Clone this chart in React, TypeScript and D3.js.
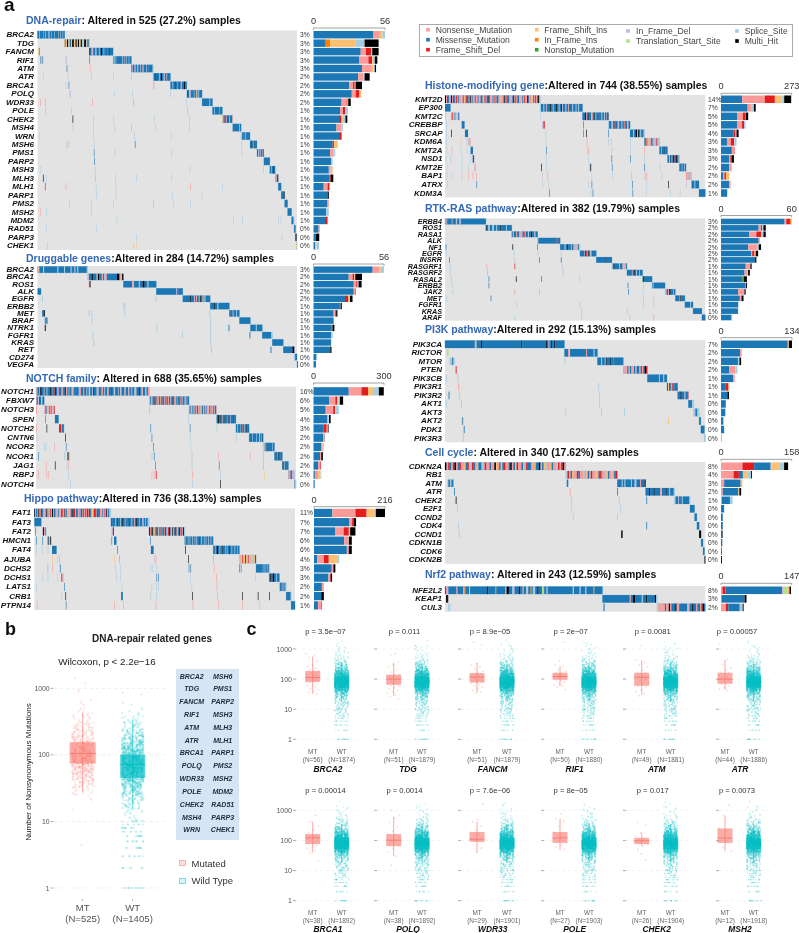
import React from 'react';
import * as d3 from 'd3';

// ---------- mutation classes ----------
const mutCodes = ['N','M','D','I','O','T','C','L','S','H'];
const mutColors = ['#FB9A99','#1F78B4','#E31A1C','#FDBF6F','#FF7F00','#33A02C','#CAB2D6','#B2DF8A','#A6CEE3','#000000'];
const mutColor = d3.scaleOrdinal<string,string>().domain(mutCodes).range(mutColors);
const legendCol1 = [['N','Nonsense_Mutation'],['M','Missense_Mutation'],['D','Frame_Shift_Del']];
const legendCol2 = [['I','Frame_Shift_Ins'],['O','In_Frame_Ins'],['T','Nonstop_Mutation']];
const legendCol3 = [['C','In_Frame_Del'],['L','Translation_Start_Site']];
const legendCol4 = [['S','Splice_Site'],['H','Multi_Hit']];

// ---------- oncoplot rows: g gene, p percent, b bar stack, n new samples in stair block,
// m run-length block pattern, t single samples, r extra runs [start,len,pattern] ----------
type Row = {g:string;p:string;b:string;n:number;m:string;t?:string;r?:[number,number,string][]};

const dnaRows: Row[] = [
 {g:'BRCA2',p:'3%',b:'M47 N5 I2 S2',n:55,m:'M4 S M6 S M4 S M5 S2 M3 C M5 S M7 I M3 S M4 S M3'},
 {g:'TDG',p:'3%',b:'M9 D.5 O3.5 I20 S7 H11',n:50,m:'O M I2 H2 S I2 H M I2 H3 I2 S H2 I S H2 I3 H2 S2 I2 H3 I S2 H M I'},
 {g:'FANCM',p:'3%',b:'M37 N4 D4 I1 H5',n:48,m:'H2 M2 N C2 M4 S2 M2 H M2 N M2 H2 M3 S M5 D M3 H M6',t:'1I 3M'},
 {g:'RIF1',p:'3%',b:'M36 N7 D3 I.5 S1.5 H2',n:37,m:'M C S M2 S M12 S M3 N M2 S M4 S M4',t:'57C 58C 105M',r:[[6,6,'M C N M S']]},
 {g:'ATM',p:'3%',b:'M38 N7 I2 S1 H1',n:44,m:'M2 C M3 N S M3 C2 M4 S M3 N S M5 C M3 M8 S',t:'59M 106N'},
 {g:'ATR',p:'2%',b:'M35 N4 S1 H4',n:35,m:'N M3 H M2 H M3 S M2 H2 M3 S C M3 N M6',t:'11S 61S 109S 153S 190S'},
 {g:'BRCA1',p:'2%',b:'M28 N3 D1.3 I.7 H5',n:33,m:'M4 S M4 H M2 N M3 H M2 N S M4 H2 M3',t:'57S 63M 234C 235N'},
 {g:'POLQ',p:'2%',b:'M30 N3 D3 I1.5',n:31,m:'S H M2 N2 C M5 S M3 I N M2 S M5',t:'65C 66C 155S 192S 268S'},
 {g:'WDR33',p:'2%',b:'M22 N4 D.7 I.5 H2',n:21,m:'M13 S M4',t:'5N 15N 111N 194N 301S'},
 {g:'POLE',p:'1%',b:'M21 N2 D2 S2',n:20,m:'M4 S M9 S M6',t:'16C 68S 303N'},
 {g:'CHEK2',p:'1%',b:'M20 D2 I1 S2 H1.5',n:21,m:'I S M2 D M2 N H M3 S M4 N',t:'71H 113S 153S 236S 307S'},
 {g:'MSH4',p:'1%',b:'M18 N4 S1',n:17,m:'M10 S M2',t:'71S 113S 156S 190N 238S 307S'},
 {g:'WRN',p:'1%',b:'M20 D2',n:18,m:'S2 M3 D M3 S M8',t:'3S 113S 196S 270S'},
 {g:'MSH6',p:'1%',b:'M15 D1 I3',n:14,m:'M2 H M2 S M2 H M3',t:'59N 62S 114S 197M 412S'},
 {g:'PMS1',p:'1%',b:'M13 N2.5 S1.5',n:14,m:'M2 S C M2 C M2 N M2',t:'114M 156S 271S 413S'},
 {g:'PARP2',p:'1%',b:'M14 S1',n:12,m:'M12',t:'115M'},
 {g:'MSH3',p:'1%',b:'M12 C1.5 I1.5',n:12,m:'M2 I M3 H M2 S',t:'6S 116S 308S 457C'},
 {g:'MLH3',p:'1%',b:'M12.5 D1 H2',n:5,m:'M N M H',t:'11H 18S 117N 157S 200S 270S'},
 {g:'MLH1',p:'1%',b:'M8 N3 D1.5',n:6,m:'M6',t:'15D 57N 118S 158S 309N 374S'},
 {g:'PARP1',p:'1%',b:'M11 H1',n:7,m:'M6 H',t:'119S 158S 272S 332S'},
 {g:'PMS2',p:'1%',b:'M11 N1',n:6,m:'M6',t:'64S 108S 153S 234N 274S 309S'},
 {g:'MSH2',p:'1%',b:'M10 S2',n:8,m:'M8',t:'5N 18S 109S'},
 {g:'MDM2',p:'1%',b:'M9 D2',n:5,m:'M3 D S',t:'160S 396S 414S 487S 492S'},
 {g:'RAD51',p:'0%',b:'M4 N1',n:3,m:'M3',t:'17S 119S'},
 {g:'PARP3',p:'0%',b:'M2 H2.5',n:2,m:'H2',t:'200S 494S'},
 {g:'CHEK1',p:'0%',b:'M1.3 I1 S2',n:1,m:'I',t:'20S 194S 200I'},
];

const drugRows: Row[] = [
 {g:'BRCA2',p:'3%',b:'M47 N5 I1.5 S2.5',n:55,m:'N I M4 I M14 S M6 S M6 S M3 C M2 S M9 S'},
 {g:'BRCA1',p:'2%',b:'M28 N3 D1.5 I.7 H5.3',n:39,m:'C M2 H M3 N H M2 N M S N M8 H2 N C H',},
 {g:'ROS1',p:'2%',b:'M32 N2 D1 S.8 H2.4',n:36,m:'M9 N C M5 S M3 H2 M3 S M8',t:'56N 57H'},
 {g:'ALK',p:'2%',b:'M32 N1 D.5',n:29,m:'M22 C D M5',r:[[0,4,'M']]},
 {g:'EGFR',p:'2%',b:'M25 D2.7 I1.3 H2',n:30,m:'M8 H M2 D C M N M2 I H M2 I M S M5',t:'5S 129S'},
 {g:'ERBB2',p:'1%',b:'M21 S.5 H1',n:21,m:'M4 H M3 S M12',t:'94S 95S'},
 {g:'MET',p:'1%',b:'M16 N1.3 D.7 H1',n:11,m:'D M3 C M3 S M3',t:'5M 6M 7H 56S 59S 95S 188S'},
 {g:'BRAF',p:'1%',b:'M16',n:12,m:'M12',t:'8M 9M 10M 59S 189S'},
 {g:'NTRK1',p:'1%',b:'M14.6 S.4 H1.6',n:13,m:'M6 S M6',t:'8H 130S 189S 209M'},
 {g:'FGFR1',p:'1%',b:'M14 S1.3',n:11,m:'M9 S',t:'60S 158S 189S 232M'},
 {g:'KRAS',p:'1%',b:'M14',n:12,m:'M12',t:'61S 189S'},
 {g:'RET',p:'1%',b:'M13.3 H1',n:12,m:'M10 H2',t:'190S 255M'},
 {g:'CD274',p:'0%',b:'M2 S1',n:3,m:'S M2'},
 {g:'VEGFA',p:'0%',b:'M2',n:1,m:'M'},
];

const notchRows: Row[] = [
 {g:'NOTCH1',p:'16%',b:'M150 N54 D28 I21 S25 H21',n:300,m:'N S M3 C H2 M3 N M3 S M4 H2 N M3 D H M2 N2 M4 S N M3 H N2 M2 I M3 S N2 M2 D M4 C N2 M3 S D M3 S M2 N I M3 S H M4 N2 S M3 D N2 M2 S M3 I N M3 H M3 N S M3 D N M2 S2 M4 N C M3 S N M2 D I M3 S2 N M4 H M2 S N M3 C S M2 N2'},
 {g:'FBXW7',p:'6%',b:'M66 N27 D8 I5 S6 H14',n:105,m:'C S M2 N S N M3 N H M2 D N M2 S N2 M3 I N M2 H N M3 N S M2 D I M2 N2 M3 S N M2 H M3 N2 M S I M3 N M4 D N M2 S N M3 C M N S M2 N D M3',r:[[0,22,'N M2 C S H M2 N S M H M']]},
 {g:'NOTCH3',p:'5%',b:'M52 N32 D8 I3 S13',n:73,m:'S M2 N C S M2 N2 M D S N M2 N2 S M I N2 M2 S N M D N2 M S N2 I M2 N M S N2 M D S M2 N',t:'0N 1N 300N',r:[[22,28,'N D N M S C N D N2 M S N2 D']]},
 {g:'SPEN',p:'4%',b:'M59 N4 S3 H7',n:51,m:'M3 H2 M4 H M3 N M3 H M5 S M2 H M4 C M6 H M4',t:'24M 403S',r:[[50,10,'M']]},
 {g:'NOTCH2',p:'3%',b:'M42 D14 N5 H3',n:35,m:'M3 S M2 H M S M3 H N M3 S M3 H M4',t:'0N 28H 303M 407M 478S',r:[[61,14,'D3 N M2 H S']]},
 {g:'CNTN6',p:'2%',b:'M42 N4 H1',n:37,m:'M7 S M8 S M5 S2 M3 N M2 H',t:'2S 77H 306M 407S 529S'},
 {g:'NCOR2',p:'2%',b:'M32 N7 I5',n:30,m:'I3 C M2 S H M14 S M4',t:'22S 26S 48N 79M 310M 409S'},
 {g:'NCOR1',p:'2%',b:'M28 N4 D1 H7',n:21,m:'M7 S H2 M3 H M5',t:'6M 74S 76S 82H 84I 86H 306S 312M 412C 482N 566N 601N'},
 {g:'JAG1',p:'2%',b:'M20 N8 D3',n:16,m:'H M4 S M2 H M5',t:'26N 50H 81S 86N 315M 412S 484M 601N'},
 {g:'RBPJ',p:'2%',b:'M6 N8 D3 I13 S3',n:16,m:'N M I C2 H2 S C2 N C2',t:'5N 28N 33N 85S 306N 312N 315N 318D 414N 487S 604I'},
 {g:'NOTCH4',p:'0%',b:'M5',n:4,m:'M C2 S',t:'90S 414S 487H'},
];

const hippoRows: Row[] = [
 {g:'FAT1',p:'11%',b:'M56 N70 D34 I25 S3 H28',n:216,m:'H N M N H N D N H M N C N H N M I N D N H N M2 S N2 M I N M D N2 H N M S N I N M2 H D2 N M2 N S M C H N D N M N D2 N H M N I N D2 M N H M D N S M N2 D N H N M N S'},
 {g:'FAT3',p:'7%',b:'M108 N8 D5 H7',n:108,m:'C H M5 S M2 H M3 S M2 H M3 C M2 D M3 H M2 S M3 N M2 H M3 S M4 C S M2 S M3 C S',r:[[0,20,'M']]},
 {g:'FAT2',p:'7%',b:'M64 N26 D16 I4 H16',n:101,m:'H N D M H N I M N H D S M N H C M D N H M S N D H M N I H N M D H N S M H N D M N H S',t:'2M',r:[[22,13,'C H N M S'],[218,6,'C2 H']]},
 {g:'HMCN1',p:'6%',b:'M92 N12 I2 H9',n:80,m:'H C M3 S M2 C M3 S M3 N M2 S M4 H M2 C M3 S M2 N M3 S M3 C M3',t:'5M 23M 218M 327M',r:[[38,11,'H M S H N'],[225,7,'M']]},
 {g:'FAT4',p:'6%',b:'M100 N6 H9',n:74,m:'M3 S M2 H2 M3 S M3 H M4 S M2 S M3 H M3 C M4 S M3 S M3',t:'5S 21S 38S 234M 426H',r:[[50,13,'M'],[329,8,'M']]},
 {g:'AJUBA',p:'4%',b:'M10 N20 D15 I26 S6',n:47,m:'I2 N I2 D N I3 H N I2 N D I2 N I3 S I N I2 H',t:'51I 65S 71N 226I 239C 240N 339C 343N 435H 505N'},
 {g:'DCHS2',p:'3%',b:'M54 N5 H6',n:37,m:'M14 S M3 S N H M3 S M2',t:'36S 38S 51N 71S 73M 228S 242S 328S 334S 345S 436M 441M 507N 579M 583M'},
 {g:'DCHS1',p:'3%',b:'M44 N5 D2 H4',n:29,m:'M2 H M3 H2 M4 S M4',t:'23S 38S 65S 77H 79N 82C 232S 242S 345M 350M 440S 513N 624S'},
 {g:'LATS1',p:'2%',b:'M24 N6',n:19,m:'C M3 N M2 C M2 S',t:'5S 85M 247S 331S 345S 350S 444S 515N'},
 {g:'CRB1',p:'2%',b:'M22 H8',n:14,m:'M11 S',t:'77S 88H 328S 345S 446H 517N 587H 631H 663H',r:[[245,5,'M']]},
 {g:'PTPN14',p:'1%',b:'M12 N10 D2',n:11,m:'M11',t:'7N 89M 226N 251C 343N 447N 520N 587N 636S'},
];

const histoneRows: Row[] = [
 {g:'KMT2D',p:'14%',b:'M82 N87 D39 I26 S10 H27',n:272,m:'H N D M N C H N M2 N D N M N2 S N M I N D M2 N H N M N S D N2 M C N M2 I N D N M2 H N2 S M N D N M2 N C I N2 M H N D M2 S N2 M H N D N M2 I N S M N D N2 H M N2 S I M N D N M H N'},
 {g:'EP300',p:'7%',b:'M103 N13 C3 S8 H7',n:121,m:'S M3 S M2 C M4 H M2 S M3 H M2 S M2 H C M3 S M2 N M4 S M3 C M2 S M4',r:[[0,16,'M']]},
 {g:'KMT2C',p:'5%',b:'M62 N22 D9 I2 H10',n:74,m:'M3 H N M2 H M2 S N M2 H C M3 D M2 N M2 S M2 N H',t:'0N 273S',r:[[17,26,'N D N C M N S C M N']]},
 {g:'CREBBP',p:'5%',b:'M62 N19 D8 S6',n:62,m:'S M3 N S M2 D M3 N C M3 S M2 N D M2 S N M2',t:'3S 395M',r:[[46,10,'N M3'],[278,7,'C D']]},
 {g:'SRCAP',p:'4%',b:'M48 D8 N4 H8',n:41,m:'M4 S M2 H2 I H M2 S M3 C',t:'3S 18H 287S 395M 403H 467M',r:[[57,9,'M']]},
 {g:'KDM6A',p:'3%',b:'M23 N15 D13 S9',n:43,m:'M2 N D C I N S N D M N2 C S N D N S C',t:'3S 45I 62S 67C 68C 69N 70N 71N 288S 405N 467S 474C 529S'},
 {g:'KMT2A',p:'3%',b:'M42 N8 D2',n:23,m:'M4 S M6 H M5',t:'5S 19N 45S 62S 289M 407S 410N 476S 529S 569N',r:[[73,7,'M']]},
 {g:'NSD1',p:'3%',b:'M32 N4 D5 H9',n:34,m:'M2 S M H N M H D M2 H M2 C',t:'2S 16S 48S 73S 79M 81H 83C 289S 410S 476M 529M 570S'},
 {g:'KMT2E',p:'2%',b:'M32 N9',n:19,m:'M4 C M3 S M2',t:'5S 48S 67S 83C 85N 87C 275H 290S 414M 416H 477M 570M 614S'},
 {g:'BAP1',p:'2%',b:'M8 N5 D6 I13',n:16,m:'N C2 N C I',t:'5S 19S 48C 67N 79N 89N 278C 293N 419S 478S 533N 571C 573I 576N 619S'},
 {g:'ATRX',p:'2%',b:'M32 N5',n:21,m:'M4 S M5',t:'7S 90M 279S 295S 410S 419M 535M 576S 638H 689C'},
 {g:'KDM3A',p:'1%',b:'M24',n:18,m:'M',t:'298M 416S 422M 536M 574S 643S 671S'},
];

const rtkRows: Row[] = [
 {g:'ERBB4',p:'3%',b:'M54 N1.4 D3.4 O1',n:60,m:'C M N M5 D C M3 H C S M3 C2 M33'},
 {g:'ROS1',p:'2%',b:'M32 N2 D1 S1 H2',n:38,m:'H M2 S C M3 S2 M3 S M4 H M6 S M6',t:'60M'},
 {g:'RASA1',p:'2%',b:'M24 N6 D4 S2 H2',n:38,m:'M N M D N M2 S N2 M D N M2 S D M H M2 C M2'},
 {g:'ALK',p:'2%',b:'M32 N1',n:33,m:'S M26 D M4',t:'135S'},
 {g:'NF1',p:'2%',b:'M23 N8 S1 H2',n:29,m:'M5 S M2 H M3 N M2 S N S N2 M S',t:'1M 99H 135M'},
 {g:'EGFR',p:'2%',b:'M25.5 N1 D2 I1 H2',n:24,m:'M6 C H D N M H M S N M6',t:'2S 101S 136S 170S'},
 {g:'INSRR',p:'2%',b:'M29 H1',n:23,m:'M14 H M8',t:'6M 102S 138M 170M'},
 {g:'RASGRF1',p:'1%',b:'M21 N4 H1',n:22,m:'S M H M5 S M3 N S N2 M',t:'7S 61N 102D 172C'},
 {g:'RASGRF2',p:'1%',b:'M20 N2 S1 H1.5',n:23,m:'M7 N M2 H M2 S M3 S M4',t:'8S 62N 173N'},
 {g:'RASAL2',p:'1%',b:'M18 T1.5 H2.5',n:14,m:'T H M12',t:'9S 64M 104H 141M 197S'},
 {g:'ERBB2',p:'1%',b:'M20.5 S.5 H1',n:19,m:'M S M16',t:'10S 64M 268M 291S'},
 {g:'JAK2',p:'1%',b:'M14.5 N5.4 H1',n:15,m:'S N M2 N H M H M2 N M2',t:'11S 102N 138N 269M 290S'},
 {g:'MET',p:'1%',b:'M16 N1.4 H1.7',n:14,m:'M6 N H M5',t:'2S 67M 291S 305S'},
 {g:'FGFR1',p:'1%',b:'M14.5 S.5',n:12,m:'M8 S M3',t:'105S 198S 291S 306S'},
 {g:'KRAS',p:'1%',b:'M14.5',n:13,m:'M',t:'200S 267S'},
 {g:'ARAF',p:'0%',b:'M8.5 N1',n:5,m:'M',t:'102S 200S 271S 306N'},
];

const pi3kRows: Row[] = [
 {g:'PIK3CA',p:'7%',b:'M126 I2 H6',n:134,m:'M34 C I M5 H M45 H M27 H M2 C M2 H M2 H M11'},
 {g:'RICTOR',p:'2%',b:'M36 N2 S2',n:37,m:'M4 N S M17 N M7 S M3',r:[[2,2,'L']]},
 {g:'MTOR',p:'2%',b:'M32 S2 T1 H3',n:29,m:'M4 C M3 S H M4 H M2 T M10',t:'134S',r:[[5,6,'S C M S']]},
 {g:'PTEN',p:'2%',b:'M16 N11 S4',n:27,m:'N C N M N M N2 M N M2 N M N M H D',t:'12D'},
 {g:'PIK3CB',p:'1%',b:'M23 N3',n:22,m:'M13 S M4 I M3',t:'1S 14C'},
 {g:'PIK3R1',p:'1%',b:'M8 D6 I2',n:12,m:'D I D M C D M M3',t:'15N 172S'},
 {g:'PIK3R2',p:'1%',b:'M12 H3',n:12,m:'M3 H M3 C M2 D',t:'4M 16S 173S'},
 {g:'AKT1',p:'0%',b:'M9',n:6,m:'M4 S2',t:'1S 18S 173S'},
 {g:'AKT3',p:'0%',b:'M8 S1',n:6,m:'S C M2 L S',t:'135S 175S 201S'},
 {g:'AKT2',p:'0%',b:'M4 I2',n:2,m:'M2',t:'19M 20I 250I'},
 {g:'PDK1',p:'0%',b:'M6',n:4,m:'M',t:'21M'},
 {g:'PIK3R3',p:'0%',b:'S2',n:1,m:'S',t:'20S'},
];

const cellRows: Row[] = [
 {g:'CDKN2A',p:'8%',b:'N48 D26 M37 C2 I17 S11 H9',n:158,m:'H N D M N D H N M D N2 I M D S N D M N I M2 S N D N2 M N2 H I N M I M D N2 M H N M I D N2 M S N D M2 N2 I M2 H N M I S N2 I M N2 S D N D H N'},
 {g:'RB1',p:'4%',b:'N28 D12 M9 I11 S7 H2',n:67,m:'S D N M I N2 D M N2 S N I M N D N2 I N M D N2 S I M N I N M D'},
 {g:'ATM',p:'3%',b:'N7 M37 I4',n:37,m:'M5 S M2 S M6 S M3 C S M4 N M4 H',r:[[3,8,'S M2 S M2'],[159,2,'M']]},
 {g:'ATR',p:'2%',b:'N4 M35 I2 H4',n:38,m:'M4 H M4 H M6 N S M5 H M2 C M4 S',t:'12M 163N 225M'},
 {g:'CHEK2',p:'1%',b:'N2 M18 S6',n:20,m:'S M3 C D M2 S M7 N',t:'14H 165S 227S 263M'},
 {g:'E2F1',p:'0%',b:'M7',n:6,m:'M',t:'16S 165S 229S'},
 {g:'CCND2',p:'0%',b:'M4',n:3,m:'M',t:'167S 225S'},
 {g:'CDK4',p:'0%',b:'M4',n:3,m:'M',t:'17S 263M'},
 {g:'CCND1',p:'0%',b:'H1.5 M1.5 H1',n:2.5,m:'H',t:'18S 230H 231H'},
 {g:'CDKN1B',p:'0%',b:'M3',n:2.5,m:'M'},
 {g:'CDK6',p:'0%',b:'M2',n:2,m:'M'},
 {g:'CDKN2B',p:'0%',b:'H2',n:1,m:'H'},
];

const nrfRows: Row[] = [
 {g:'NFE2L2',p:'8%',b:'N3 D6 M118 C3.5 L7 I3 O2 H3',n:147,m:'D N C M7 N M5 C O M3 S M15 H M6 O M8 C H2 M3 S C M4 H M2 N M2 S L M2 O M C S M2 H M3 L C M2 S M22 L M5 S M4 C M6 O M7'},
 {g:'KEAP1',p:'3%',b:'N1 M48 H4',n:51,m:'M25 N M2 H2 M6 S M3 H M7 H S',t:'1H 2H'},
 {g:'CUL3',p:'2%',b:'N10 D5 M24 S6 H2',n:45,m:'I N2 C N2 M N2 H N M3 H N2 M6 C N M2 H M2 N M2 N D H M',t:'3S 4S 148M'},
];

// ---------- panel titles & extents ----------
const panels = [
 {blue:'DNA-repair',rest:': Altered in 525 (27.2%) samples',total:525,max:56,rows:dnaRows,tx:26,ty:20,axY:28,y0:30.5,y1:250,ox0:37.5,ox1:297,lx:34,px:300,bx0:313.5,bx1:385},
 {blue:'Druggable genes',rest:':Altered in 284 (14.72%) samples',total:284,max:56,rows:drugRows,tx:26,ty:258,axY:264,y0:266,y1:368,ox0:37.5,ox1:297,lx:34,px:300,bx0:313.5,bx1:384},
 {blue:'NOTCH family',rest:': Altered in 688 (35.65%) samples',total:688,max:300,rows:notchRows,tx:26,ty:377.5,axY:383,y0:386.7,y1:488.7,ox0:36,ox1:296,lx:34,px:300,bx0:313.5,bx1:384},
 {blue:'Hippo pathway',rest:':Altered in 736 (38.13%) samples',total:736,max:216,rows:hippoRows,tx:24,ty:497.5,axY:506.7,y0:508.3,y1:610,ox0:34.3,ox1:295,lx:31,px:300,bx0:314,bx1:385},
 {blue:'Histone-modifying gene',rest:':Altered in 744 (38.55%) samples',total:744,max:273,rows:histoneRows,tx:425,ty:84.7,axY:93.3,y0:95,y1:197.3,ox0:445,ox1:705.3,lx:442.5,px:708,bx0:721,bx1:791.7},
 {blue:'RTK-RAS pathway',rest:':Altered in 382 (19.79%) samples',total:382,max:60,rows:rtkRows,tx:425,ty:207.7,axY:215.5,y0:218.3,y1:320.7,ox0:445,ox1:705.3,lx:442,px:708,bx0:721,bx1:791.7},
 {blue:'PI3K pathway',rest:':Altered in 292 (15.13%) samples',total:292,max:134,rows:pi3kRows,tx:425,ty:329,axY:337.7,y0:340,y1:442.3,ox0:445,ox1:705.3,lx:442,px:708,bx0:721,bx1:792},
 {blue:'Cell cycle',rest:': Altered in 340 (17.62%) samples',total:340,max:158,rows:cellRows,tx:425,ty:452.2,axY:459.3,y0:462,y1:564,ox0:445,ox1:705.3,lx:442,px:708,bx0:721,bx1:791.7},
 {blue:'Nrf2 pathway',rest:': Altered in 243 (12.59%) samples',total:243,max:147,rows:nrfRows,tx:425,ty:574,axY:583.3,y0:586,y1:611.7,ox0:445,ox1:705.3,lx:442,px:708,bx0:721,bx1:791.7},
];

// ---------- panel b values ----------
const bTicks = [1,10,100,1000];
const bGenes1 = ['BRCA2','TDG','FANCM','RIF1','ATM','ATR','BRCA1','POLQ','WDR33','POLE','CHEK2','MSH4','WRN'];
const bGenes2 = ['MSH6','PMS1','PARP2','MSH3','MLH3','MLH1','PARP1','PMS2','MSH2','MDM2','RAD51','PARP3','CHEK1'];
const bBoxMT = {lo:28,q1:74,med:105,q3:155,hi:430};
const bBoxWT = {lo:15,q1:45,med:72,q3:100,hi:340};
// [log10 value, number of samples]
const bMtBins: [number,number][] = [[.6,1],[1.15,1],[1.35,3],[1.45,12],[1.55,25],[1.65,40],[1.75,60],[1.85,70],[1.95,75],[2.05,70],[2.15,55],[2.25,40],[2.35,30],[2.45,20],[2.55,10],[2.65,6],[2.75,3],[2.85,2],[2.95,2],[3.1,1],[3.2,1]];
const bWtInts: [number,number][] = [[1,12],[2,7],[3,9],[4,9],[5,9],[6,10],[7,9],[8,9],[9,7],[10,7]];
const bWtBins: [number,number][] = [[1.05,8],[1.15,12],[1.25,22],[1.35,40],[1.45,65],[1.55,95],[1.65,130],[1.75,165],[1.85,185],[1.95,170],[2.05,135],[2.15,100],[2.25,65],[2.35,40],[2.45,22],[2.55,12],[2.65,5],[2.75,3],[2.95,2]];

// ---------- panel c values ----------
const cWtInts: [number,number][] = [[1,14],[2,7],[3,10],[4,9],[5,9],[6,8],[7,8],[8,7],[9,7],[10,7]];
const cWtBins: [number,number][] = [[1.05,16],[1.15,18],[1.25,22],[1.35,28],[1.45,42],[1.55,70],[1.65,150],[1.75,230],[1.85,290],[1.95,300],[2.05,250],[2.15,170],[2.25,105],[2.35,55],[2.45,32],[2.55,22],[2.65,13],[2.75,8],[2.85,5],[2.95,4],[3.05,3],[3.15,2],[3.25,1]];
const cWtBox = {lo:18,q1:52,med:80,q3:118,hi:350};
const cGenes = [
 {g:'BRCA2',p:'p = 3.5e\u221207',nm:56,nw:1874,lo:32,q1:81,med:113,q3:185,hi:570,v:[700,600,520,400,300,260,230,210,190,185,180,170,160,150,145,140,135,130,125,120,118,115,112,110,108,105,100,98,95,92,90,88,85,82,80,78,75,70,65,60,55,50,45,40,35,32]},
 {g:'TDG',p:'p = 0.011',nm:51,nw:1879,lo:28,q1:65,med:100,q3:140,hi:355,v:[700,600,360,300,250,200,170,150,140,130,125,120,115,110,105,100,98,95,92,90,85,82,78,75,72,70,66,62,58,52,48,42,38,34,30,26,22]},
 {g:'FANCM',p:'p = 8.9e\u221205',nm:51,nw:1879,lo:36,q1:77,med:116,q3:158,hi:340,v:[1700,1400,330,300,260,220,180,160,150,140,135,130,125,118,115,112,108,102,98,92,88,85,80,78,72,66,60,55,48,42,38,35]},
 {g:'RIF1',p:'p = 2e\u221207',nm:50,nw:1880,lo:57,q1:95,med:122,q3:162,hi:265,v:[1700,400,300,265,200,180,165,160,150,140,135,130,125,120,115,110,105,100,96,92,88,80,72,65,60,55,45]},
 {g:'ATM',p:'p = 0.0081',nm:49,nw:1881,lo:30,q1:60,med:115,q3:162,hi:420,v:[1300,420,350,300,250,200,170,160,150,140,130,120,115,110,100,95,85,75,65,60,55,45,38,32,28]},
 {g:'ATR',p:'p = 0.00057',nm:44,nw:1886,lo:44,q1:70,med:100,q3:162,hi:440,v:[1500,440,300,240,200,170,160,150,130,120,110,105,100,95,90,85,80,72,68,60,52,46,42]},
 {g:'BRCA1',p:'p = 0.00014',nm:38,nw:1892,lo:39,q1:76,med:122,q3:162,hi:415,v:[700,420,300,230,180,165,160,150,140,130,125,120,110,100,95,90,85,78,72,65,55,45,38,21]},
 {g:'POLQ',p:'p = 0.0014',nm:38,nw:1892,lo:30,q1:65,med:102,q3:162,hi:585,v:[1000,700,580,400,280,200,170,160,150,130,120,105,100,95,85,80,70,65,55,42,30,15]},
 {g:'WDR33',p:'p = 7.6e\u221206',nm:29,nw:1901,lo:39,q1:90,med:110,q3:190,hi:415,v:[1600,500,420,300,220,190,170,150,130,115,110,105,100,95,92,70,55,40]},
 {g:'POLE',p:'p = 8e\u221205',nm:27,nw:1903,lo:48,q1:83,med:122,q3:190,hi:540,v:[780,540,450,300,190,170,150,130,120,110,100,90,85,70,60,50]},
 {g:'CHEK2',p:'p = 0.017',nm:26,nw:1904,lo:65,q1:76,med:98,q3:122,hi:178,v:[400,330,180,140,120,110,100,95,90,85,80,75,65,50,22,35]},
 {g:'MSH2',p:'p = 0.0073',nm:12,nw:1918,lo:44,q1:83,med:120,q3:250,hi:660,v:[1500,660,250,200,150,120,100,90,85,60,45]},
];

// ---------- layout constants ----------
const cCols = [
 {mt:312.7,wt:341.7,tick:293,pc:325.5,gc:328,gr:358},
 {mt:393.7,wt:422,tick:374,pc:404.5,gc:408,gr:440},
 {mt:477,wt:507,tick:458,pc:490,gc:492.7,gr:524},
 {mt:560,wt:589,tick:541,pc:570.7,gc:574.7,gr:606},
 {mt:641.7,wt:670.7,tick:623,pc:652.7,gc:656.7,gr:688},
 {mt:725,wt:753.7,tick:716,pc:737,gc:740,gr:770},
];
const cRowsLayout = [
 {y1000:649,y1:739.3,pY:631,mY:751,nY:759,gY:768.5},
 {y1000:810.3,y1:900.7,pY:790.7,mY:912.3,nY:920.3,gY:929},
];
const TEAL='#00BFC4', RED='#F8766D';
const SANS='"Liberation Sans", Arial, sans-serif';

const tok = (s:string)=>Array.from(s.matchAll(/([A-Z])([\d.]*)/g)).map(m=>({c:m[1],v:m[2]===''?1:+m[2]}));
const PHI=0.618034, PLA=0.754878;
const frac=(x:number)=>x-Math.floor(x);

function Oncoplot({P}:{P:typeof panels[number]}){
  const x=d3.scaleLinear().domain([0,P.total]).range([P.ox0,P.ox1]);
  const band=d3.scaleBand<string>().domain(P.rows.map(r=>r.g)).range([P.y0,P.y1]);
  const bar=d3.scaleLinear().domain([0,P.max]).range([P.bx0,P.bx1]);
  const h=band.bandwidth();
  const gap=Math.min(1,h*0.12);
  const sum=d3.cumsum(P.rows.map(r=>r.n));
  const fs=h<7?7.2:8;
  const run=(key:string,start:number,len:number,pat:string,y:number)=>{
    const t=tok(pat); const tot=d3.sum(t,d=>d.v); let acc=0;
    return t.map((d,i)=>{const a=start+acc/tot*len; acc+=d.v; const b=start+acc/tot*len;
      return <rect key={key+i} x={x(a)} y={y+gap/2} width={x(b)-x(a)} height={h-gap} fill={mutColor(d.c)}/>;});
  };
  return <g>
    <text x={P.tx} y={P.ty} dominantBaseline="central" fontSize={10.5} fontWeight="bold" fontFamily={SANS}>
      <tspan fill="#3468B4">{P.blue}</tspan><tspan fill="#111">{P.rest}</tspan>
    </text>
    <rect x={P.ox0} y={P.y0} width={P.ox1-P.ox0} height={P.y1-P.y0} fill="#E3E3E3"/>
    {P.rows.map((r,i)=>{
      const y=band(r.g)!; const start=i?sum[i-1]:0;
      const ticks=Array.from((r.t||'').matchAll(/([\d.]+)([A-Z])/g));
      let acc=0; const bs=tok(r.b);
      return <g key={r.g}>
        <text x={P.lx} y={y+h/2} textAnchor="end" dominantBaseline="central" fontSize={fs} fontWeight="bold" fontStyle="italic" fill="#111" fontFamily={SANS}>{r.g}</text>
        {ticks.map((m,j)=><rect key={'t'+j} x={x(+m[1])} y={y+gap/2} width={Math.max(x(1)-x(0),0.6)} height={h-gap} fill={mutColor(m[2])}/>)}
        {(r.r||[]).map((q,j)=><g key={'r'+j}>{run('q',q[0],q[1],q[2],y)}</g>)}
        <rect x={x(start)-0.3} y={y+gap/2-0.25} width={x(start+r.n)-x(start)+0.6} height={h-gap+0.5} fill="#9CC3DE"/>
        {run('m',start,r.n,r.m,y)}
        <text x={P.px} y={y+h/2} dominantBaseline="central" fontSize={6.7} fill="#333" fontFamily={SANS}>{r.p}</text>
        {bs.map((d,j)=>{const a=acc; acc+=d.v;
          return <rect key={'b'+j} x={bar(a)} y={y+gap/2} width={bar(acc)-bar(a)} height={h-gap} fill={mutColor(d.c)}/>;})}
      </g>;
    })}
    <path d={`M${P.bx0},${P.axY+1.8}V${P.axY}H${P.bx1}V${P.axY+1.8}`} fill="none" stroke="#8a8a8a" strokeWidth={0.8}/>
    <text x={P.bx0} y={P.axY-7} textAnchor="middle" dominantBaseline="central" fontSize={9.2} fill="#333" fontFamily={SANS}>0</text>
    <text x={P.bx1} y={P.axY-7} textAnchor="middle" dominantBaseline="central" fontSize={9.2} fill="#333" fontFamily={SANS}>{P.max}</text>
  </g>;
}

function Legend(){
  const cols=[{x:428,tx:435.7,y:29.7,it:legendCol1},{x:536.7,tx:544.3,y:29.7,it:legendCol2},{x:628,tx:636,y:31,it:legendCol3},{x:737,tx:744.7,y:31,it:legendCol4}];
  return <g>
    <rect x={419.5} y={24.5} width={373} height={32} fill="#fff" stroke="#aaa" strokeWidth={1}/>
    {cols.map((c,i)=>c.it.map((d,j)=><g key={i+'-'+j}>
      <rect x={c.x-1.8} y={c.y+j*10-1.8} width={3.6} height={3.6} fill={mutColor(d[0])}/>
      <text x={c.tx} y={c.y+j*10} dominantBaseline="central" fontSize={8.6} fill="#444" fontFamily={SANS}>{d[1]}</text>
    </g>))}
  </g>;
}

function Box({cx,hw,y,s,color,op}:{cx:number;hw:number;y:(v:number)=>number;s:any;color:string;op:number}){
  return <g>
    <line x1={cx} x2={cx} y1={y(s.hi)} y2={y(s.lo)} stroke={color} strokeWidth={0.8} strokeOpacity={0.8}/>
    <rect x={cx-hw} y={y(s.q3)} width={hw*2} height={y(s.q1)-y(s.q3)} fill={color} fillOpacity={op}/>
    <line x1={cx-hw} x2={cx+hw} y1={y(s.med)} y2={y(s.med)} stroke={color} strokeWidth={0.8}/>
  </g>;
}

function Dots({cx,hw,y,ints,bins,color,r,op,phase}:{cx:number;hw:number;y:(v:number)=>number;ints:[number,number][];bins:[number,number][];color:string;r:number;op:number;phase:number}){
  const out:React.ReactElement[]=[]; let k=phase*37;
  ints.forEach(([v,n])=>{for(let i=0;i<n;i++){k++;
    out.push(<circle key={'i'+k} cx={cx+(frac(k*k*PHI)*2-1)*hw} cy={y(v)} r={r}/>);}});
  bins.forEach(([lg,n])=>{for(let i=0;i<n;i++){k++;
    const l=lg+(frac(k*PLA+phase*.29)-.5)*.1;
    out.push(<circle key={'b'+k} cx={cx+(frac(k*k*PHI)*2-1)*hw} cy={y(Math.pow(10,l))} r={r}/>);}});
  return <g fill={color} fillOpacity={op}>{out}</g>;
}

function PanelB(){
  const y=d3.scaleLog().domain([1,1000]).range([888,688.3]);
  const mt=82.7, wt=132.7;
  return <g fontFamily={SANS}>
    <text x={5} y={635} fontSize={18} fontWeight="bold" fill="#111">b</text>
    <text x={152} y={638} textAnchor="middle" dominantBaseline="central" fontSize={10} fontWeight="bold" fill="#222">DNA-repair related genes</text>
    <text x={107} y={661.5} textAnchor="middle" dominantBaseline="central" fontSize={9.8} fill="#222">Wilcoxon, p &lt; 2.2e{'\u2212'}16</text>
    {bTicks.map(t=><g key={t}>
      <line x1={54} x2={165} y1={y(t)} y2={y(t)} stroke="#e6e6e6" strokeWidth={0.7} strokeDasharray="3 3"/>
      <line x1={50.5} x2={53.5} y1={y(t)} y2={y(t)} stroke="#777" strokeWidth={0.6}/>
      <text x={49.5} y={y(t)} textAnchor="end" dominantBaseline="central" fontSize={6.8} fill="#555">{t}</text>
    </g>)}
    <text transform={`translate(28.5,772) rotate(-90)`} textAnchor="middle" dominantBaseline="central" fontSize={8.1} fill="#222">Number of Nonsynonymous Mutations</text>
    <Dots cx={mt} hw={11} y={y as any} ints={[]} bins={bMtBins} color={RED} r={1.1} op={0.2} phase={1}/>
    <Dots cx={wt} hw={11} y={y as any} ints={bWtInts} bins={bWtBins} color={TEAL} r={1.1} op={0.2} phase={2}/>
    <Box cx={mt} hw={13} y={y as any} s={bBoxMT} color={RED} op={0.6}/>
    <Box cx={wt} hw={12.5} y={y as any} s={bBoxWT} color={TEAL} op={0.65}/>
    {[[mt,'MT','(N=525)'],[wt,'WT','(N=1405)']].map(([cx,a,b])=><g key={a as string}>
      <line x1={cx as number} x2={cx as number} y1={899} y2={901} stroke="#777" strokeWidth={0.6}/>
      <text x={cx as number} y={907.5} textAnchor="middle" dominantBaseline="central" fontSize={9.6} fill="#555">{a}</text>
      <text x={cx as number} y={918} textAnchor="middle" dominantBaseline="central" fontSize={9.6} fill="#555">{b}</text>
    </g>)}
    <rect x={176} y={669} width={63} height={171} fill="#D5E5F3"/>
    {bGenes1.map((g,i)=><text key={g} x={191.7} y={676+i*12.83} textAnchor="middle" dominantBaseline="central" fontSize={7} fontWeight="bold" fontStyle="italic" fill="#1c2b3a">{g}</text>)}
    {bGenes2.map((g,i)=><text key={g} x={222.7} y={676+i*12.83} textAnchor="middle" dominantBaseline="central" fontSize={7} fontWeight="bold" fontStyle="italic" fill="#1c2b3a">{g}</text>)}
    <rect x={179.5} y={860.5} width={6} height={5} fill="#fdd" stroke={RED} strokeWidth={0.7} strokeOpacity={.7}/>
    <text x={191.5} y={863} dominantBaseline="central" fontSize={9.5} fill="#333">Mutated</text>
    <rect x={179.5} y={878.5} width={6} height={5} fill="#d5f5f5" stroke={TEAL} strokeWidth={0.7} strokeOpacity={.7}/>
    <text x={191.5} y={880.7} dominantBaseline="central" fontSize={9.5} fill="#333">Wild Type</text>
  </g>;
}

function PanelC(){
  return <g fontFamily={SANS}>
    <text x={246.5} y={635} fontSize={18} fontWeight="bold" fill="#111">c</text>
    {cGenes.map((G,i)=>{
      const L=cRowsLayout[i<6?0:1], C=cCols[i%6];
      const y=d3.scaleLog().domain([1,1000]).range([L.y1,L.y1000]);
      const ticks=[1,10,100,1000];
      return <g key={G.g}>
        <text x={C.pc} y={L.pY} textAnchor="middle" dominantBaseline="central" fontSize={7.6} fill="#333">{G.p}</text>
        {ticks.map(t=><g key={t}>
          <line x1={C.tick+3} x2={C.gr} y1={y(t)} y2={y(t)} stroke="#ececec" strokeWidth={0.7} strokeDasharray="3 3"/>
          <line x1={C.tick} x2={C.tick+3} y1={y(t)} y2={y(t)} stroke="#777" strokeWidth={0.6}/>
          {i%6===0&&<text x={C.tick-1} y={y(t)} textAnchor="end" dominantBaseline="central" fontSize={7} fill="#555">{t}</text>}
        </g>)}
        <Dots cx={C.wt} hw={7} y={y as any} ints={cWtInts} bins={cWtBins} color={TEAL} r={0.8} op={0.26} phase={i+3}/>
        <g fill={RED} fillOpacity={0.28}>
          {G.v.map((v,j)=><circle key={j} cx={C.mt+(frac((j+i)*PHI)*2-1)*6.5} cy={y(v)} r={0.9}/>)}
        </g>
        <Box cx={C.wt} hw={7.5} y={y as any} s={cWtBox} color={TEAL} op={0.5}/>
        <Box cx={C.mt} hw={7.5} y={y as any} s={G} color={RED} op={0.6}/>
        {[[C.mt,'MT',G.nm],[C.wt,'WT',G.nw]].map(([cx,a,n])=><g key={a as string}>
          <text x={cx as number} y={L.mY} textAnchor="middle" dominantBaseline="central" fontSize={6.4} fill="#666">{a}</text>
          <text x={cx as number} y={L.nY} textAnchor="middle" dominantBaseline="central" fontSize={6.4} fill="#666">(N={n})</text>
        </g>)}
        <text x={C.gc} y={L.gY} textAnchor="middle" dominantBaseline="central" fontSize={8.4} fontWeight="bold" fontStyle="italic" fill="#111">{G.g}</text>
      </g>;
    })}
  </g>;
}

export default function App(){
  return <svg width={799} height={933} viewBox="0 0 799 933" style={{position:'absolute',left:0,top:0,background:'#fff'}}>
    <defs><filter id="soft" x="0" y="0" width="100%" height="100%"><feGaussianBlur stdDeviation="0.3"/></filter></defs>
    <g filter="url(#soft)">
      <text x={4} y={11} fontSize={19} fontWeight="bold" fill="#111" fontFamily={SANS}>a</text>
      {panels.map(P=><Oncoplot key={P.blue} P={P}/>)}
      <Legend/>
      <PanelB/>
      <PanelC/>
    </g>
  </svg>;
}
